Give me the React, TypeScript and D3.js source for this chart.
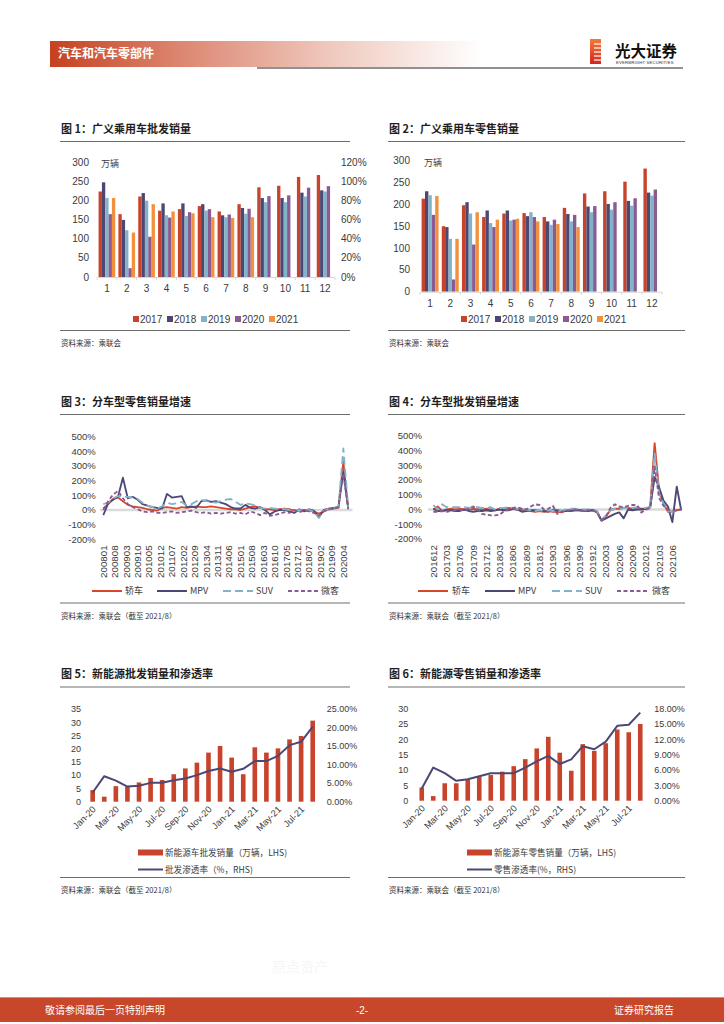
import * as d3 from "d3";

const SANS = "'Liberation Sans', Arial, 'Noto Sans CJK SC', sans-serif";
const CJK = "'Noto Sans CJK SC', 'Liberation Sans', sans-serif";

const RED = "#C8432B";
const NAVY = "#4D4873";
const LBLUE = "#82B3C8";
const PURPLE = "#8A5A92";
const ORANGE = "#F2913D";
const TXT = "#3a3a3a";

// ---- chart 1 / 2 : monthly volumes (万辆)
const months = ["1", "2", "3", "4", "5", "6", "7", "8", "9", "10", "11", "12"];
const years = ["2017", "2018", "2019", "2020", "2021"];
const yearColors = [RED, NAVY, LBLUE, PURPLE, ORANGE];

const wholesale2017 = [223, 164, 210, 173, 177, 185, 171, 190, 234, 238, 261, 266];
const wholesale2018 = [247, 149, 219, 192, 192, 190, 161, 180, 206, 206, 220, 226];
const wholesale2019 = [206, 122, 199, 161, 159, 173, 156, 165, 195, 195, 210, 223];
const wholesale2020 = [164, 23, 105, 155, 169, 177, 163, 178, 211, 213, 233, 237];
const wholesale2021 = [206, 116, 190, 171, 166, 156, 154, 156];

const retail2017 = [213, 150, 198, 171, 179, 180, 171, 192, 225, 230, 252, 282];
const retail2018 = [230, 148, 205, 186, 186, 173, 161, 178, 195, 201, 208, 227];
const retail2019 = [221, 121, 179, 157, 163, 182, 153, 161, 182, 188, 197, 220];
const retail2020 = [176, 28, 108, 148, 165, 171, 165, 176, 196, 205, 214, 234];
const retail2021 = [219, 121, 182, 165, 167, 161, 155, 148];

// ---- chart 3 : retail yoy by body type (%), read every 3rd month
const retailTicks = [
  "200801", "200808", "200903", "200910", "201005", "201012", "201107", "201202",
  "201209", "201304", "201311", "201406", "201501", "201508", "201603", "201610",
  "201705", "201712", "201807", "201902", "201909", "202004",
];
const retailSedan = [10, 40, 75, 85, 60, 35, 25, 20, 15, 5, 0, -5, 15, 20, 15, 10, 20, 15, 20, 25, 20, 20, 25, 20, 15, 10, 5, 5, 0, 10, 20, 25, 15, 5, 5, 0, 5, 10, 5, -5, -5, 0, -5, -10, -25, -10, 5, 10, 15, 330, 10];
const retailMpv = [-35, 45, 70, 90, 220, 80, 90, 70, 40, 30, 20, 15, 10, 110, 85, 90, 95, 20, 25, 15, 60, 65, 55, 60, 50, 40, 20, 10, 10, 35, 15, 10, 20, 0, -30, -10, 0, 0, -10, -20, 5, -10, 5, -5, -50, 0, 10, 15, 20, 260, 10];
const retailSuv = [40, 50, 80, 95, 90, 90, 85, 75, 50, 30, 20, 10, 25, 50, 40, 45, 55, 30, 40, 60, 70, 60, 55, 50, 60, 70, 75, 55, 35, 45, 40, 30, 15, 10, 15, 10, 5, 5, 0, -5, 0, -5, 0, -10, -55, -5, 10, 15, 20, 420, 15];
const retailMini = [0, 60, 105, 130, 80, 40, 20, 5, -10, -15, -10, -20, -20, -15, -10, -20, -15, -10, -5, -15, -20, -15, -25, -20, -25, -20, -15, -25, -20, -30, -10, -20, -35, -20, -40, -35, -25, -15, -20, 0, -15, -5, -10, -20, -40, -10, 5, 10, 20, 250, 5];

// ---- chart 4 : wholesale yoy by body type (%), monthly 201612-202108
const wholesaleTicks = [
  "201612", "201703", "201706", "201709", "201712", "201803", "201806", "201809",
  "201812", "201903", "201906", "201909", "201912", "202003", "202006", "202009",
  "202012", "202103", "202106",
];
const wsSedan = [0, 20, -10, 0, 5, 0, 5, 0, 0, 5, 0, 0, 5, 0, -5, 5, 5, 10, 5, 0, 0, -5, -10, -15, -10, -15, -10, -15, -15, -20, -5, -5, -5, -5, -10, -5, -5, -20, -75, -45, -5, 5, 5, 10, 10, 5, 10, 5, 5, 20, 450, 130, 40, -15, -15, -5, 0];
const wsMpv = [5, -10, -10, -5, -5, -10, -10, 0, -10, -15, -10, -10, -5, -10, -5, 0, -5, -5, 5, 0, -15, -10, -5, -5, -10, -10, -15, -5, -5, -10, -10, -10, -5, -5, -5, -10, -5, -15, -75, -60, -45, -30, -20, -60, 0, -5, 0, 0, 5, 15, 220, 150, 60, 20, -85, 155, -5];
const wsSuv = [30, 0, 35, 15, 15, 15, 15, 15, 10, 15, 15, 10, 10, 15, 0, 10, 10, 15, 10, 5, 5, 0, -5, -10, -5, -10, -5, -10, -10, -10, 0, 5, 5, 0, 0, 0, 0, -10, -70, -40, -5, 5, 5, 10, 10, 10, 15, 10, 10, 15, 380, 110, 40, -10, -15, -10, 0];
const wsMini = [-15, -15, -10, -15, -10, -5, 0, -5, 5, 20, 0, -30, -35, -40, -40, -35, -10, 0, 10, 15, 5, 0, 20, 35, 30, 0, 5, 25, -30, -15, -10, -5, 0, -5, -10, -5, -5, -20, -70, -50, 10, 35, 20, 15, 25, 30, 30, -20, 0, 10, 290, 80, 25, 0, -10, -5, 0];

// ---- chart 5 / 6 : NEV volumes (万辆) and penetration (%)
const nevMonths = [
  "Jan-20", "Feb-20", "Mar-20", "Apr-20", "May-20", "Jun-20", "Jul-20", "Aug-20", "Sep-20", "Oct-20",
  "Nov-20", "Dec-20", "Jan-21", "Feb-21", "Mar-21", "Apr-21", "May-21", "Jun-21", "Jul-21", "Aug-21",
];
const nevWholesale = [4.4, 1.9, 5.9, 5.7, 7.3, 9.0, 8.2, 10.4, 12.6, 14.8, 18.6, 21.1, 16.7, 10.4, 20.6, 18.6, 20.2, 23.6, 24.9, 30.7];
const wholesaleRate = [2.5, 6.9, 5.7, 4.1, 4.3, 5.1, 5.1, 5.8, 6.3, 7.2, 8.3, 9.0, 8.1, 8.9, 11.0, 11.0, 12.4, 15.3, 16.2, 20.3];
const nevRetail = [4.3, 1.5, 5.7, 5.7, 6.8, 7.9, 8.4, 9.5, 11.3, 13.6, 17.1, 20.9, 15.7, 9.8, 18.5, 16.3, 18.8, 23.3, 22.4, 25.1];
const retailRate = [2.4, 6.5, 5.4, 3.9, 4.2, 4.8, 5.4, 5.4, 5.4, 6.5, 7.7, 8.8, 7.2, 8.1, 10.7, 10.1, 11.6, 14.7, 14.9, 17.3];

const typeNames = ["轿车", "MPV", "SUV", "微客"];
const typeColors = ["#D9472B", NAVY, LBLUE, PURPLE];
const typeDash = [undefined, undefined, "8,4", "4,2.5"];

function Frame(props: { x0: number; x1: number; titleY: number; title: string; bottomY: number; source: string }) {
  const { x0, x1, titleY, title, bottomY, source } = props;
  return (
    <g>
      <text x={x0 + 1} y={titleY} fontFamily={CJK} fontWeight={700} fontSize={11} fill="#1e1e1e">
        {title}
      </text>
      <line x1={x0} x2={x1} y1={titleY + 9} y2={titleY + 9} stroke="#6e6e6e" strokeWidth={1.1} />
      <line x1={x0} x2={x1} y1={bottomY} y2={bottomY} stroke="#6e6e6e" strokeWidth={1} />
      <text x={x0 + 1} y={bottomY + 15.5} fontFamily={CJK} fontSize={7.5} fill="#333">
        {source}
      </text>
    </g>
  );
}

function YearBars(props: {
  series: number[][];
  left: number;
  right: number;
  y0: number;
  y300: number;
  labelX: number;
  catY: number;
  legendX: number[];
  rightAxis: boolean;
}) {
  const { series, left, right, y0, y300, labelX, catY, legendX, rightAxis } = props;
  const x = d3.scaleBand<string>().domain(months).range([left, right]).paddingInner(0.16).paddingOuter(0.08);
  const sub = d3.scaleBand<string>().domain(years).range([0, x.bandwidth()]);
  const y = d3.scaleLinear().domain([0, 300]).range([y0, y300]);
  const yr = d3.scaleLinear().domain([0, 1.2]).range([y0, y300]);
  const step = x.step();
  return (
    <g>
      {y.ticks(6).map((t) => (
        <text key={t} x={labelX} y={y(t)} dy="0.35em" textAnchor="end" fontFamily={SANS} fontSize={10} fill={TXT}>
          {t}
        </text>
      ))}
      {rightAxis &&
        yr.ticks(6).map((t) => (
          <text key={t} x={right + 6} y={yr(t)} dy="0.35em" fontFamily={SANS} fontSize={10} fill={TXT}>
            {d3.format(".0%")(t)}
          </text>
        ))}
      <text x={left + 4} y={y300 + 5} fontFamily={CJK} fontSize={9} fill={TXT}>
        万辆
      </text>
      {series.map((vals, k) =>
        vals.map((v, m) => (
          <rect
            key={`${k}-${m}`}
            x={(x(months[m]) ?? 0) + (sub(years[k]) ?? 0)}
            y={y(v)}
            width={sub.bandwidth()}
            height={y0 - y(v)}
            fill={yearColors[k]}
          />
        )),
      )}
      <line x1={left} x2={right} y1={y0 + 0.5} y2={y0 + 0.5} stroke="#d6d6d6" strokeWidth={1} />
      {d3.range(months.length + 1).map((i) => {
        const xx = left + (x.paddingOuter() - x.paddingInner() / 2) * step + i * step;
        return <line key={i} x1={xx} x2={xx} y1={y0 + 0.5} y2={y0 + 3} stroke="#d6d6d6" />;
      })}
      {months.map((m) => (
        <text key={m} x={x(m)! + x.bandwidth() / 2} y={catY} dy="0.35em" textAnchor="middle" fontFamily={SANS} fontSize={10} fill={TXT}>
          {m}
        </text>
      ))}
      {years.map((yy, k) => (
        <g key={yy}>
          <rect x={legendX[k]} y={316} width={6} height={6} fill={yearColors[k]} />
          <text x={legendX[k] + 7} y={319} dy="0.35em" fontFamily={SANS} fontSize={10} fill={TXT}>
            {yy}
          </text>
        </g>
      ))}
    </g>
  );
}

function TypeLines(props: {
  series: number[][];
  sampleStep: number;
  maxIndex: number;
  left: number;
  right: number;
  ticks: string[];
  tickStep: number;
  yTop: number;
  yBottom: number;
  labelX: number;
  zeroFrom: number;
  legend: { line: number; text: number }[];
  width: number;
}) {
  const { series, sampleStep, maxIndex, left, right, ticks, tickStep, yTop, yBottom, labelX, zeroFrom, legend, width } = props;
  const x = d3.scaleLinear().domain([0, maxIndex]).range([left, right]);
  const y = d3.scaleLinear().domain([-200, 500]).range([yBottom, yTop]);
  const line = d3
    .line<number>()
    .x((_, i) => x(i * sampleStep))
    .y((d) => y(d));
  return (
    <g>
      {d3.range(-200, 501, 100).map((t) => (
        <text key={t} x={labelX} y={y(t)} dy="0.35em" textAnchor="end" fontFamily={SANS} fontSize={9.5} fill={TXT}>
          {t}%
        </text>
      ))}
      <line x1={zeroFrom} x2={right + 1} y1={y(0)} y2={y(0)} stroke="#dadada" strokeWidth={2.5} />
      {series.map((s, k) => (
        <path
          key={k}
          d={line(s) ?? ""}
          fill="none"
          stroke={typeColors[k]}
          strokeWidth={width}
          strokeDasharray={typeDash[k]}
          strokeLinejoin="round"
        />
      ))}
      {ticks.map((t, i) => (
        <text
          key={t}
          transform={`translate(${x(i * tickStep)},${yBottom + 6}) rotate(-90)`}
          dy="0.35em"
          textAnchor="end"
          fontFamily={SANS}
          fontSize={9.8}
          fill={TXT}
        >
          {t}
        </text>
      ))}
      {typeNames.map((n, k) => (
        <g key={n}>
          <line
            x1={legend[k].line}
            x2={legend[k].line + 30}
            y1={591}
            y2={591}
            stroke={typeColors[k]}
            strokeWidth={2}
            strokeDasharray={typeDash[k]}
          />
          <text x={legend[k].text} y={591} dy="0.35em" fontFamily={CJK} fontSize={9} fill={TXT}>
            {n}
          </text>
        </g>
      ))}
    </g>
  );
}

function NevChart(props: {
  bars: number[];
  rate: number[];
  left: number;
  right: number;
  y0: number;
  yTop: number;
  maxL: number;
  maxR: number;
  stepL: number;
  stepR: number;
  labelL: number;
  labelR: number;
  legendX: number;
  barLabel: string;
  lineLabel: string;
}) {
  const { bars, rate, left, right, y0, yTop, maxL, maxR, stepL, stepR, labelL, labelR, legendX, barLabel, lineLabel } = props;
  const x = d3.scaleBand<string>().domain(nevMonths).range([left, right]).paddingInner(0.6).paddingOuter(0.3);
  const y = d3.scaleLinear().domain([0, maxL]).range([y0, yTop]);
  const yr = d3.scaleLinear().domain([0, maxR]).range([y0, yTop]);
  const cx = (m: string) => (x(m) ?? 0) + x.bandwidth() / 2;
  const line = d3
    .line<number>()
    .x((_, i) => cx(nevMonths[i]))
    .y((d) => yr(d));
  return (
    <g>
      {d3.range(0, maxL + 0.01, stepL).map((t) => (
        <text key={t} x={labelL} y={y(t)} dy="0.35em" textAnchor="end" fontFamily={SANS} fontSize={9} fill={TXT}>
          {t}
        </text>
      ))}
      {d3.range(0, maxR + 0.01, stepR).map((t) => (
        <text key={t} x={labelR} y={yr(t)} dy="0.35em" fontFamily={SANS} fontSize={9} fill={TXT}>
          {d3.format(".2f")(t)}%
        </text>
      ))}
      {bars.map((v, i) => (
        <rect key={i} x={x(nevMonths[i])} y={y(v)} width={x.bandwidth()} height={y0 - y(v)} fill={RED} />
      ))}
      <path d={line(rate) ?? ""} fill="none" stroke={NAVY} strokeWidth={2} strokeLinejoin="round" />
      {nevMonths
        .filter((_, i) => i % 2 === 0)
        .map((m) => (
          <text
            key={m}
            transform={`translate(${cx(m) + 1.5},${y0 + 6}) rotate(-45)`}
            dy="0.35em"
            textAnchor="end"
            fontFamily={SANS}
            fontSize={9.2}
            fill={TXT}
          >
            {m}
          </text>
        ))}
      <rect x={legendX} y={849.5} width={25} height={6} fill={RED} />
      <text x={legendX + 27} y={852.5} dy="0.35em" fontFamily={CJK} fontSize={8.6} fill={TXT}>
        {barLabel}
      </text>
      <line x1={legendX} x2={legendX + 25} y1={869.5} y2={869.5} stroke={NAVY} strokeWidth={2} />
      <text x={legendX + 27} y={869.5} dy="0.35em" fontFamily={CJK} fontSize={8.6} fill={TXT}>
        {lineLabel}
      </text>
    </g>
  );
}

function Header() {
  return (
    <g>
      <defs>
        <linearGradient id="hdrGrad" x1="0" x2="1" y1="0" y2="0">
          <stop offset="0" stopColor="#C5411F" />
          <stop offset="0.3" stopColor="#DC8671" />
          <stop offset="0.65" stopColor="#EFC9BE" />
          <stop offset="1" stopColor="#ffffff" />
        </linearGradient>
        <linearGradient id="logoGrad" x1="0" x2="0" y1="0" y2="1">
          <stop offset="0" stopColor="#F07A3A" />
          <stop offset="1" stopColor="#D5261F" />
        </linearGradient>
      </defs>
      <rect x={50} y={41} width={432} height={26} fill="url(#hdrGrad)" />
      <text x={58} y={58} fontFamily={CJK} fontWeight={700} fontSize={12} fill="#ffffff">
        汽车和汽车零部件
      </text>
      <line x1={257} x2={683} y1={68} y2={68} stroke="#222" strokeWidth={1} />
      <rect x={590} y={39} width={11} height={25} fill="url(#logoGrad)" />
      {[44, 48, 52, 56, 60].map((yy) => (
        <line key={yy} x1={594} x2={602} y1={yy} y2={yy} stroke="#fff" strokeWidth={1.2} />
      ))}
      <text x={615} y={57} fontFamily={CJK} fontWeight={700} fontSize={15.5} fill="#111">
        光大证券
      </text>
      <text x={616} y={64} fontFamily={SANS} fontSize={4.2} fill="#333" letterSpacing={0.2}>
        EVERBRIGHT SECURITIES
      </text>
    </g>
  );
}

function Footer() {
  return (
    <g>
      <text x={300} y={972} textAnchor="middle" fontFamily={CJK} fontSize={14} fill="#f6f6f6">
        原点资产
      </text>
      <rect x={0} y={997} width={724} height={25} fill="#C8462A" />
      <line x1={0} x2={724} y1={997.5} y2={997.5} stroke="#dc8a72" strokeWidth={1} />
      <text x={45} y={1010} dy="0.35em" fontFamily={CJK} fontSize={10} fill="#fff">
        敬请参阅最后一页特别声明
      </text>
      <text x={362} y={1010} dy="0.35em" textAnchor="middle" fontFamily={SANS} fontSize={10} fill="#fff">
        -2-
      </text>
      <text x={674} y={1010} dy="0.35em" textAnchor="end" fontFamily={CJK} fontSize={10} fill="#fff">
        证券研究报告
      </text>
    </g>
  );
}

export default function App() {
  const src = "资料来源：乘联会（截至 2021/8）";
  return (
    <svg
      width={724}
      height={1024}
      viewBox="0 0 724 1024"
      style={{ position: "absolute", left: 0, top: 0, background: "#fff" }}
    >
      <rect width={724} height={1024} fill="#fff" />
      <Header />

      <Frame x0={60} x1={350} titleY={132.5} title="图 1：广义乘用车批发销量" bottomY={330.5} source="资料来源：乘联会" />
      <Frame x0={388} x1={685} titleY={132.5} title="图 2：广义乘用车零售销量" bottomY={330.5} source="资料来源：乘联会" />
      <YearBars
        series={[wholesale2017, wholesale2018, wholesale2019, wholesale2020, wholesale2021]}
        left={97}
        right={335}
        y0={277}
        y300={162}
        labelX={89}
        catY={288.5}
        legendX={[133, 167, 201, 235, 269]}
        rightAxis={true}
      />
      <YearBars
        series={[retail2017, retail2018, retail2019, retail2020, retail2021]}
        left={420}
        right={662}
        y0={291.7}
        y300={160.7}
        labelX={410}
        catY={303}
        legendX={[461, 495, 529, 563, 597]}
        rightAxis={false}
      />

      <Frame x0={60} x1={350} titleY={405.5} title="图 3：分车型零售销量增速" bottomY={603} source={src} />
      <Frame x0={388} x1={685} titleY={405.5} title="图 4：分车型批发销量增速" bottomY={603} source={src} />
      <TypeLines
        series={[retailSedan, retailMpv, retailSuv, retailMini]}
        sampleStep={3}
        maxIndex={152}
        left={103.3}
        right={351.5}
        ticks={retailTicks}
        tickStep={7}
        yTop={436.7}
        yBottom={539.3}
        labelX={95.7}
        zeroFrom={100}
        legend={[
          { line: 92, text: 125 },
          { line: 157, text: 190 },
          { line: 223, text: 256 },
          { line: 288, text: 321 },
        ]}
        width={1.8}
      />
      <TypeLines
        series={[wsSedan, wsMpv, wsSuv, wsMini]}
        sampleStep={1}
        maxIndex={56}
        left={433.3}
        right={681.2}
        ticks={wholesaleTicks}
        tickStep={3}
        yTop={435.7}
        yBottom={539}
        labelX={422}
        zeroFrom={428}
        legend={[
          { line: 418, text: 452 },
          { line: 485, text: 518 },
          { line: 552, text: 585 },
          { line: 617, text: 652 },
        ]}
        width={1.9}
      />

      <Frame x0={60} x1={350} titleY={678} title="图 5：新能源批发销量和渗透率" bottomY={877.5} source={src} />
      <Frame x0={388} x1={685} titleY={678} title="图 6：新能源零售销量和渗透率" bottomY={877.5} source={src} />
      <NevChart
        bars={nevWholesale}
        rate={wholesaleRate}
        left={86.9}
        right={318.5}
        y0={801.7}
        yTop={709.3}
        maxL={35}
        maxR={25}
        stepL={5}
        stepR={5}
        labelL={81}
        labelR={326.7}
        legendX={138}
        barLabel="新能源车批发销量（万辆，LHS)"
        lineLabel="批发渗透率（%，RHS)"
      />
      <NevChart
        bars={nevRetail}
        rate={retailRate}
        left={416}
        right={646}
        y0={800.7}
        yTop={709}
        maxL={30}
        maxR={18}
        stepL={5}
        stepR={3}
        labelL={408.3}
        labelR={654.3}
        legendX={467}
        barLabel="新能源车零售销量（万辆，LHS)"
        lineLabel="零售渗透率(%，RHS)"
      />

      <Footer />
    </svg>
  );
}
